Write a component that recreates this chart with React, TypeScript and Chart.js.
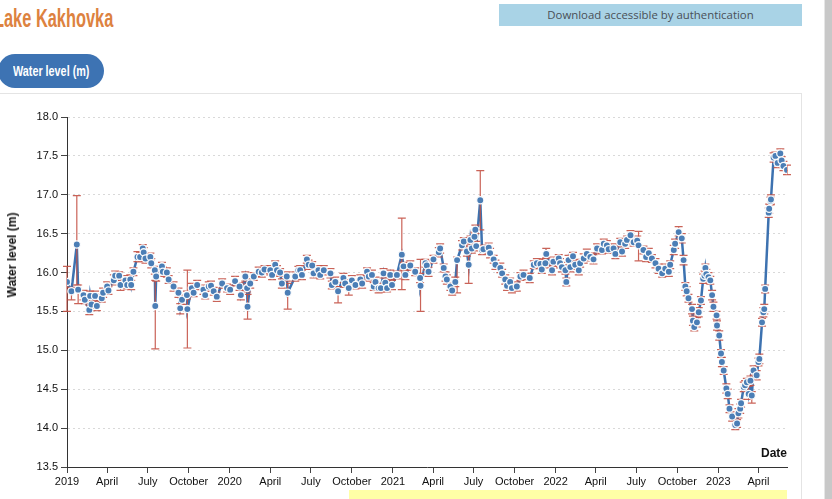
import React, { useEffect, useRef } from "react";
import { Chart, registerables } from "chart.js";

Chart.register(...registerables);

// Days since 2019-01-01 for each altimetry observation
const dayOffsets = [
  0, 10, 22, 25, 37, 40, 50, 52, 55, 63,
  67, 78, 81, 90, 93, 105, 108, 117, 120, 131,
  135, 142, 144, 149, 158, 164, 170, 172, 176, 187,
  189, 197, 198, 200, 213, 215, 224, 228, 239, 250,
  254, 258, 269, 270, 280, 284, 292, 306, 310, 318,
  323, 329, 336, 348, 359, 366, 377, 387, 390, 400,
  404, 405, 411, 419, 430, 437, 443, 456, 460, 467,
  471, 478, 482, 493, 495, 512, 519, 523, 527, 538,
  542, 550, 553, 564, 568, 576, 591, 594, 602, 608,
  620, 624, 632, 639, 647, 658, 662, 673, 677, 684,
  688, 692, 699, 704, 710, 714, 718, 725, 729, 740,
  751, 755, 759, 770, 781, 792, 793, 804, 807, 811,
  822, 834, 837, 845, 849, 852, 860, 864, 871, 875,
  886, 890, 897, 901, 905, 908, 914, 916, 918, 927,
  931, 934, 946, 949, 957, 961, 972, 976, 983, 987,
  994, 998, 1009, 1017, 1024, 1038, 1047, 1054, 1062, 1065,
  1073, 1075, 1088, 1091, 1103, 1106, 1110, 1118, 1120, 1125,
  1129, 1135, 1140, 1148, 1151, 1159, 1166, 1174, 1181, 1189,
  1200, 1204, 1211, 1215, 1226, 1230, 1241, 1245, 1252, 1256,
  1264, 1271, 1279, 1282, 1293, 1299, 1305, 1312, 1320, 1327,
  1335, 1342, 1350, 1353, 1361, 1364, 1372, 1379, 1383, 1387,
  1390, 1394, 1402, 1404, 1407, 1413, 1417, 1422, 1427, 1430,
  1432, 1434, 1439, 1443, 1447, 1450, 1457, 1458, 1463, 1467,
  1469, 1473, 1479, 1482, 1486, 1492, 1499, 1503, 1506, 1510,
  1512, 1518, 1521, 1525, 1529, 1533, 1536, 1540, 1547, 1551,
  1553, 1559, 1562, 1564, 1566, 1574, 1575, 1578, 1579, 1585,
  1589, 1594, 1600, 1603, 1607, 1615,
];

// Water level (m)
const waterLevels = [
  15.88, 15.76, 16.36, 15.78, 15.71, 15.65, 15.52, 15.70, 15.59, 15.70,
  15.57, 15.67, 15.74, 15.82, 15.77, 15.90, 15.96, 15.96, 15.84, 15.90,
  15.84, 15.91, 15.84, 16.01, 16.20, 16.20, 16.31, 16.26, 16.18, 16.20,
  16.12, 16.03, 15.57, 15.95, 16.08, 16.01, 16.00, 15.91, 15.82, 15.74,
  15.54, 15.65, 15.71, 15.53, 15.80, 15.74, 15.84, 15.78, 15.71, 15.82,
  15.83, 15.76, 15.69, 15.86, 15.80, 15.78, 15.89, 15.82, 15.71, 15.95,
  15.80, 15.56, 15.86, 15.95, 16.01, 16.00, 16.04, 16.03, 15.97, 16.10,
  16.03, 16.00, 15.86, 15.95, 15.74, 15.95, 16.03, 16.03, 15.97, 16.17,
  16.10, 16.09, 15.99, 16.03, 15.97, 16.03, 15.99, 15.84, 15.88, 15.76,
  15.93, 15.86, 15.80, 15.90, 15.84, 15.91, 15.86, 16.01, 15.95, 15.97,
  15.82, 15.88, 15.80, 15.80, 15.99, 15.87, 15.80, 15.97, 15.84, 15.97,
  16.23, 16.08, 15.97, 16.09, 16.01, 15.93, 15.83, 16.12, 16.09, 16.01,
  16.17, 16.26, 16.31, 16.06, 15.95, 15.91, 15.82, 15.77, 15.88, 16.16,
  16.35, 16.40, 16.27, 16.10, 16.42, 16.31, 16.46, 16.55, 16.34, 16.93,
  16.29, 16.30, 16.32, 16.25, 16.17, 16.10, 16.06, 15.99, 15.91, 15.83,
  15.88, 15.80, 15.82, 15.95, 15.97, 15.93, 16.10, 16.12, 16.11, 16.04,
  16.12, 16.24, 16.03, 16.14, 16.18, 16.12, 16.07, 16.03, 15.88, 16.16,
  16.07, 16.21, 16.10, 16.03, 16.12, 16.18, 16.24, 16.20, 16.17, 16.31,
  16.29, 16.37, 16.35, 16.30, 16.31, 16.24, 16.39, 16.27, 16.37, 16.42,
  16.48, 16.39, 16.41, 16.35, 16.29, 16.20, 16.25, 16.18, 16.12, 16.05,
  15.99, 16.05, 16.01, 16.10, 16.29, 16.37, 16.52, 16.44, 16.16, 15.82,
  15.76, 15.67, 15.53, 15.38, 15.30, 15.36, 15.49, 15.64, 15.92, 15.96,
  16.06, 15.98, 15.94, 15.90, 15.71, 15.56, 15.45, 15.32, 15.19, 14.96,
  14.85, 14.74, 14.51, 14.44, 14.25, 14.15, 14.04, 14.06, 14.19, 14.25,
  14.32, 14.53, 14.55, 14.59, 14.44, 14.61, 14.42, 14.74, 14.68, 14.85,
  14.89, 15.36, 15.49, 15.53, 15.79, 16.77, 16.82, 16.92, 16.94, 17.48,
  17.50, 17.41, 17.53, 17.44, 17.37, 17.32,
];

// Uncertainty below each value (m)
const errMinus = [
  0.38, 0.11, 0.52, 0.18, 0.06, 0.05, 0.06, 0.06, 0.05, 0.06,
  0.06, 0.05, 0.06, 0.06, 0.05, 0.06, 0.06, 0.05, 0.07, 0.06,
  0.05, 0.06, 0.06, 0.05, 0.06, 0.06, 0.05, 0.06, 0.06, 0.05,
  0.06, 0.05, 0.55, 0.06, 0.05, 0.06, 0.06, 0.05, 0.06, 0.06,
  0.07, 0.06, 0.05, 0.50, 0.06, 0.05, 0.06, 0.06, 0.05, 0.06,
  0.06, 0.05, 0.06, 0.06, 0.05, 0.06, 0.06, 0.05, 0.06, 0.06,
  0.05, 0.16, 0.06, 0.05, 0.06, 0.06, 0.05, 0.06, 0.06, 0.05,
  0.06, 0.05, 0.06, 0.06, 0.21, 0.06, 0.05, 0.06, 0.06, 0.05,
  0.06, 0.05, 0.06, 0.06, 0.05, 0.06, 0.06, 0.05, 0.06, 0.15,
  0.06, 0.05, 0.09, 0.06, 0.05, 0.06, 0.06, 0.05, 0.06, 0.06,
  0.05, 0.06, 0.06, 0.05, 0.06, 0.06, 0.05, 0.06, 0.06, 0.05,
  0.45, 0.05, 0.06, 0.06, 0.05, 0.06, 0.33, 0.05, 0.06, 0.06,
  0.05, 0.06, 0.06, 0.05, 0.06, 0.06, 0.05, 0.06, 0.06, 0.42,
  0.06, 0.05, 0.06, 0.24, 0.05, 0.06, 0.06, 0.05, 0.06, 0.38,
  0.06, 0.05, 0.06, 0.06, 0.05, 0.06, 0.06, 0.05, 0.06, 0.06,
  0.05, 0.06, 0.06, 0.05, 0.06, 0.06, 0.05, 0.06, 0.06, 0.05,
  0.06, 0.05, 0.06, 0.06, 0.05, 0.06, 0.06, 0.05, 0.05, 0.06,
  0.06, 0.05, 0.06, 0.06, 0.05, 0.06, 0.06, 0.05, 0.06, 0.06,
  0.05, 0.06, 0.06, 0.05, 0.06, 0.06, 0.05, 0.06, 0.06, 0.05,
  0.06, 0.05, 0.06, 0.20, 0.05, 0.06, 0.06, 0.05, 0.06, 0.06,
  0.05, 0.06, 0.06, 0.05, 0.06, 0.06, 0.05, 0.06, 0.06, 0.05,
  0.06, 0.05, 0.06, 0.06, 0.05, 0.06, 0.06, 0.05, 0.06, 0.06,
  0.05, 0.06, 0.06, 0.05, 0.06, 0.06, 0.05, 0.06, 0.06, 0.05,
  0.06, 0.05, 0.06, 0.06, 0.05, 0.06, 0.06, 0.05, 0.06, 0.06,
  0.05, 0.06, 0.06, 0.05, 0.07, 0.06, 0.10, 0.06, 0.06, 0.05,
  0.06, 0.05, 0.06, 0.06, 0.05, 0.06, 0.06, 0.05, 0.06, 0.06,
  0.05, 0.06, 0.06, 0.05, 0.06, 0.06,
];

// Uncertainty above each value (m)
const errPlus = [
  0.20, 0.05, 0.63, 0.06, 0.06, 0.05, 0.06, 0.06, 0.05, 0.06,
  0.06, 0.05, 0.06, 0.06, 0.05, 0.07, 0.06, 0.05, 0.06, 0.06,
  0.05, 0.06, 0.06, 0.05, 0.07, 0.06, 0.05, 0.06, 0.06, 0.05,
  0.06, 0.05, 0.33, 0.06, 0.05, 0.06, 0.06, 0.05, 0.06, 0.06,
  0.06, 0.06, 0.05, 0.50, 0.06, 0.05, 0.06, 0.06, 0.05, 0.06,
  0.06, 0.05, 0.06, 0.06, 0.05, 0.06, 0.06, 0.05, 0.06, 0.06,
  0.05, 0.16, 0.06, 0.05, 0.06, 0.06, 0.05, 0.06, 0.06, 0.05,
  0.06, 0.05, 0.06, 0.06, 0.12, 0.06, 0.05, 0.06, 0.06, 0.05,
  0.06, 0.05, 0.06, 0.06, 0.05, 0.06, 0.06, 0.05, 0.06, 0.06,
  0.06, 0.05, 0.06, 0.06, 0.05, 0.06, 0.06, 0.05, 0.06, 0.06,
  0.05, 0.06, 0.06, 0.05, 0.06, 0.06, 0.05, 0.06, 0.06, 0.05,
  0.47, 0.05, 0.06, 0.06, 0.05, 0.06, 0.34, 0.05, 0.06, 0.06,
  0.05, 0.06, 0.06, 0.05, 0.06, 0.06, 0.05, 0.06, 0.06, 0.04,
  0.06, 0.05, 0.06, 0.20, 0.05, 0.06, 0.06, 0.06, 0.06, 0.38,
  0.06, 0.05, 0.06, 0.06, 0.05, 0.06, 0.06, 0.05, 0.06, 0.06,
  0.05, 0.06, 0.06, 0.05, 0.06, 0.06, 0.05, 0.06, 0.06, 0.05,
  0.06, 0.07, 0.06, 0.06, 0.05, 0.06, 0.06, 0.05, 0.05, 0.06,
  0.06, 0.05, 0.06, 0.06, 0.05, 0.06, 0.06, 0.05, 0.06, 0.06,
  0.05, 0.06, 0.06, 0.05, 0.06, 0.06, 0.05, 0.06, 0.06, 0.05,
  0.06, 0.05, 0.06, 0.18, 0.05, 0.06, 0.06, 0.05, 0.06, 0.06,
  0.05, 0.06, 0.06, 0.05, 0.06, 0.06, 0.07, 0.06, 0.06, 0.05,
  0.06, 0.05, 0.06, 0.06, 0.05, 0.06, 0.06, 0.05, 0.06, 0.06,
  0.05, 0.06, 0.06, 0.05, 0.06, 0.06, 0.05, 0.06, 0.06, 0.05,
  0.06, 0.05, 0.06, 0.06, 0.05, 0.06, 0.06, 0.05, 0.06, 0.06,
  0.05, 0.06, 0.06, 0.05, 0.10, 0.06, 0.05, 0.06, 0.06, 0.05,
  0.06, 0.05, 0.06, 0.06, 0.05, 0.06, 0.06, 0.05, 0.06, 0.06,
  0.05, 0.06, 0.06, 0.05, 0.06, 0.06,
];

const seriesStart = "2019-01-01";
const tickDates = [
  "2019-01-01", "2019-04-01", "2019-07-01", "2019-10-01",
  "2020-01-01", "2020-04-01", "2020-07-01", "2020-10-01",
  "2021-01-01", "2021-04-01", "2021-07-01", "2021-10-01",
  "2022-01-01", "2022-04-01", "2022-07-01", "2022-10-01",
  "2023-01-01", "2023-04-01",
];
const tickLabels = [
  "2019", "April", "July", "October",
  "2020", "April", "July", "October",
  "2021", "April", "July", "October",
  "2022", "April", "July", "October",
  "2023", "April",
];

const yMin = 13.5;
const yMax = 18.0;
const yStep = 0.5;

const DAY_MS = 86400000;
const toDay = (iso: string) =>
  Math.round((Date.parse(iso + "T00:00:00Z") - Date.parse(seriesStart + "T00:00:00Z")) / DAY_MS);
const tickDays = tickDates.map(toDay);

const FONT = "'Liberation Sans', Arial, Helvetica, sans-serif";

const errorBarPlugin = {
  id: "errorBars",
  afterDatasetDraw(chart: any, args: any) {
    if (args.index !== 0) return;
    const { ctx, scales } = chart;
    const xs = scales.x;
    const ys = scales.y;
    ctx.save();
    ctx.strokeStyle = "rgba(196, 82, 70, 0.9)";
    ctx.lineWidth = 1.2;
    const cap = 4;
    for (let i = 0; i < dayOffsets.length; i++) {
      const px = xs.getPixelForValue(dayOffsets[i]);
      const lo = ys.getPixelForValue(waterLevels[i] - errMinus[i]);
      const hi = ys.getPixelForValue(waterLevels[i] + errPlus[i]);
      ctx.beginPath();
      ctx.moveTo(px, lo);
      ctx.lineTo(px, hi);
      ctx.moveTo(px - cap, lo);
      ctx.lineTo(px + cap, lo);
      ctx.moveTo(px - cap, hi);
      ctx.lineTo(px + cap, hi);
      ctx.stroke();
    }
    ctx.restore();
  },
};

function WaterLevelChart() {
  const ref = useRef<HTMLCanvasElement | null>(null);
  useEffect(() => {
    if (!ref.current) return;
    const points = dayOffsets.map((d, i) => ({ x: d, y: waterLevels[i] }));
    const chart = new Chart(ref.current, {
      type: "line",
      data: {
        datasets: [
          {
            label: "line",
            data: points,
            borderColor: "#3d72b0",
            borderWidth: 2.5,
            pointRadius: 0,
            tension: 0,
            order: 2,
          } as any,
          {
            label: "points",
            data: points,
            showLine: false,
            pointRadius: 3.6,
            pointBackgroundColor: "#4b7eb6",
            pointBorderColor: "rgba(255,255,255,0.95)",
            pointBorderWidth: 1.3,
            order: 1,
          } as any,
        ],
      },
      options: {
        animation: false,
        responsive: true,
        maintainAspectRatio: false,
        layout: { padding: { top: 24, right: 15, left: 0, bottom: 0 } },
        plugins: {
          legend: { display: false },
          tooltip: { enabled: false },
        },
        events: [],
        scales: {
          x: {
            type: "linear",
            min: 0,
            max: dayOffsets[dayOffsets.length - 1],
            afterBuildTicks: (axis: any) => {
              axis.ticks = tickDays.map((v) => ({ value: v }));
            },
            afterFit: (axis: any) => {
              axis.height = 32;
            },
            ticks: {
              autoSkip: false,
              maxRotation: 0,
              minRotation: 0,
              padding: 2,
              color: "#111",
              font: { family: FONT, size: 11 },
              callback: (v: any) => tickLabels[tickDays.indexOf(v)] ?? "",
            },
            grid: {
              drawOnChartArea: false,
              drawTicks: true,
              tickLength: 6,
              tickColor: "#444",
              tickWidth: 1,
            },
            border: { display: true, color: "#333", width: 1 },
          },
          y: {
            type: "linear",
            min: yMin,
            max: yMax,
            afterFit: (axis: any) => {
              axis.width = 67;
            },
            ticks: {
              stepSize: yStep,
              padding: 3,
              color: "#111",
              font: { family: FONT, size: 11 },
              callback: (v: any) => Number(v).toFixed(1),
            },
            grid: {
              color: "#d9d9d9",
              lineWidth: 1,
              drawTicks: true,
              tickLength: 6,
              tickColor: "#444",
              tickWidth: 1,
              tickBorderDash: [],
            },
            border: { display: true, color: "#333", width: 1, dash: [2, 3] },
          },
        },
      } as any,
      plugins: [errorBarPlugin],
    });
    return () => chart.destroy();
  }, []);
  return (
    <div style={{ position: "absolute", left: 0, top: 93, width: 802, height: 406 }}>
      <canvas ref={ref} />
    </div>
  );
}

export default function App() {
  return (
    <div
      style={{
        position: "fixed",
        left: 0,
        top: 0,
        width: 832,
        height: 499,
        overflow: "hidden",
        background: "#fff",
        fontFamily: FONT,
      }}
    >
      <div
        style={{
          position: "absolute",
          left: -6,
          top: 0,
          fontFamily: FONT,
          fontWeight: 700,
          fontSize: 26,
          lineHeight: "36px",
          color: "#dd8240",
          whiteSpace: "nowrap",
          transform: "scaleX(0.63)",
          transformOrigin: "0 0",
        }}
      >
        Lake Kakhovka
      </div>
      <div
        style={{
          position: "absolute",
          left: -2,
          top: 54,
          width: 106,
          height: 34,
          borderRadius: 17,
          background: "#3d73b3",
        }}
      >
        <span
          style={{
            position: "absolute",
            left: 15,
            top: 0,
            color: "#fff",
            fontFamily: FONT,
            fontWeight: 700,
            fontSize: 15,
            lineHeight: "34px",
            whiteSpace: "nowrap",
            transform: "scaleX(0.72)",
            transformOrigin: "0 0",
          }}
        >
          Water level (m)
        </span>
      </div>
      <div
        style={{
          position: "absolute",
          left: 499,
          top: 4,
          width: 303,
          height: 22,
          background: "#a9d3e6",
          color: "#4a5057",
          fontFamily: "'Open Sans', sans-serif",
          fontSize: 11.4,
          lineHeight: "22px",
          textAlign: "center",
          whiteSpace: "nowrap",
        }}
      >
        Download accessible by authentication
      </div>
      <div
        style={{
          position: "absolute",
          left: -1,
          top: 93,
          width: 803,
          height: 420,
          border: "1px solid #e4e4e4",
          boxSizing: "border-box",
        }}
      />
      <WaterLevelChart />
      <div
        style={{
          position: "absolute",
          left: 12,
          top: 255,
          transform: "translate(-50%, -50%) rotate(-90deg)",
          fontFamily: FONT,
          fontWeight: 700,
          fontSize: 12,
          color: "#111",
          whiteSpace: "nowrap",
        }}
      >
        Water level (m)
      </div>
      <div
        style={{
          position: "absolute",
          right: 832 - 787,
          top: 446,
          fontFamily: FONT,
          fontWeight: 700,
          fontSize: 12,
          color: "#111",
          whiteSpace: "nowrap",
        }}
      >
        Date
      </div>
      <div
        style={{
          position: "absolute",
          left: 349,
          top: 490,
          width: 438,
          height: 9,
          background: "#ffffa6",
        }}
      />
      <div
        style={{
          position: "absolute",
          left: 824,
          top: 0,
          width: 8,
          height: 499,
          background: "#c8c8c8",
          borderLeft: "1px solid #e6e6e6",
        }}
      />
    </div>
  );
}
